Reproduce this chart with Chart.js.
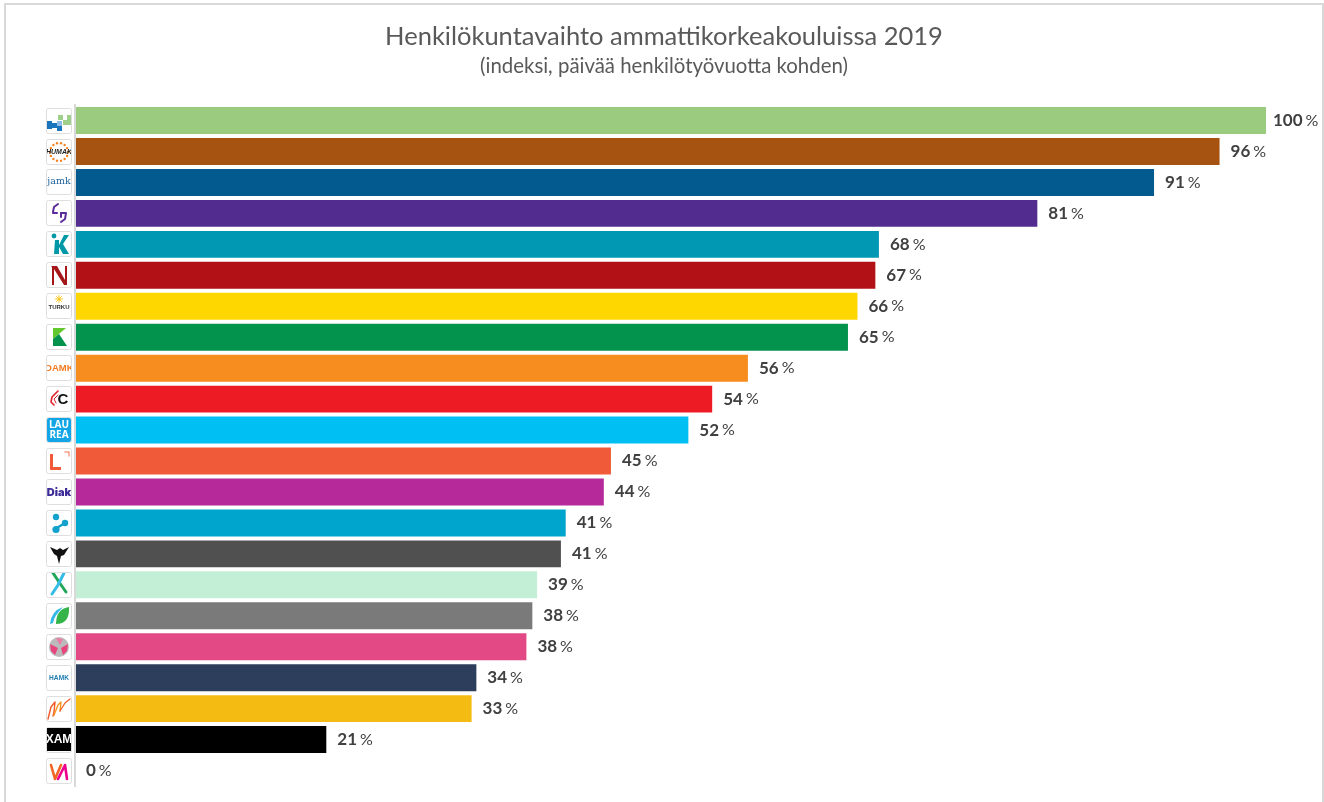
<!DOCTYPE html>
<html>
<head>
<meta charset="utf-8">
<title>Henkilökuntavaihto ammattikorkeakouluissa 2019</title>
<script src="https://cdn.jsdelivr.net/npm/chart.js@4"></script>
<style>
  html, body { margin: 0; padding: 0; background: #fff; overflow: hidden; }
  #frame { position: absolute; left: 4px; top: 3px; width: 1316px; height: 799px;
           border: 2px solid #d9d9d9; border-bottom: none; }
</style>
</head>
<body>
<div id="frame"></div>
<canvas id="turnoverChart" width="1324" height="802" style="position:absolute;left:0;top:0"></canvas>
<script>
const schools = ["hh", "humak", "jamk", "seamk", "kamk", "novia", "turku", "karelia", "oamk", "centria", "laurea",
  "lab", "diak", "savonia", "lapin", "tamk", "metropolia", "arcada", "hamk", "samk", "xamk", "vamk"];
const turnover = [100, 96.1, 90.6, 80.8, 67.5, 67.2, 65.7, 64.9, 56.5, 53.5, 51.5,
  45, 44.4, 41.2, 40.8, 38.8, 38.4, 37.9, 33.7, 33.3, 21.1, 0];
const turnoverLabels = ["100", "96", "91", "81", "68", "67", "66", "65", "56", "54", "52",
  "45", "44", "41", "41", "39", "38", "38", "34", "33", "21", "0"];
const barColors = ["#9bcb7e", "#a65311", "#025a8f", "#522d8f", "#0098b2", "#b21116", "#ffd700", "#03934c",
  "#f78d1e", "#ed1c24", "#00c0f3", "#f15a38", "#b5299a", "#00a5ce", "#505050", "#c2efd5", "#7a7a7a",
  "#e34985", "#2c3e5b", "#f4bc12", "#000000", "#e5007d"];

// small hand drawn logos, coordinates are local to a 24x24 box
function text(c, s, x, y, font, color) {
  c.font = font; c.fillStyle = color; c.textAlign = "center"; c.textBaseline = "middle";
  c.fillText(s, x, y);
}
function poly(c, color, pts) {
  c.fillStyle = color; c.beginPath();
  pts.forEach((p, i) => i ? c.lineTo(p[0], p[1]) : c.moveTo(p[0], p[1]));
  c.closePath(); c.fill();
}
function line(c, color, w, pts) {
  c.strokeStyle = color; c.lineWidth = w; c.lineCap = "round"; c.lineJoin = "round"; c.beginPath();
  pts.forEach((p, i) => i ? c.lineTo(p[0], p[1]) : c.moveTo(p[0], p[1]));
  c.stroke();
}
function dot(c, color, x, y, r) {
  c.fillStyle = color; c.beginPath(); c.arc(x, y, r, 0, Math.PI * 2); c.fill();
}
const logos = {
  hh(c) {
    [[0, 12, 5, 8, "#1a75bc"], [5, 14, 5, 5, "#1a75bc"], [10, 17, 5, 5, "#1a75bc"], [10, 12, 5, 5, "#8fbce6"]]
      .forEach(p => { c.fillStyle = p[4]; c.fillRect(p[0], p[1], p[2], p[3]); });
    [[11, 6, 5, 5], [16, 11, 5, 5], [20, 6, 4, 10]]
      .forEach(p => { c.fillStyle = "#9fd08a"; c.fillRect(p[0], p[1], p[2], p[3]); });
  },
  humak(c) {
    for (let i = 0; i < 14; i++) {
      const a = i * Math.PI / 7;
      dot(c, "#f58220", 12 + 9 * Math.cos(a), 12 + 9 * Math.sin(a), 1.2);
    }
    text(c, "HUMAK", 12, 12, "italic bold 7px 'Liberation Sans'", "#222");
  },
  jamk(c) { text(c, "jamk", 12, 12, "9.5px 'DejaVu Serif'", "#1f6299"); },
  seamk(c) {
    line(c, "#5b2d9b", 2, [[6, 11], [7, 6], [11, 3]]);
    line(c, "#5b2d9b", 2, [[6, 12], [10, 12]]);
    line(c, "#5b2d9b", 2, [[14, 12], [19, 12], [18, 18], [14, 21]]);
    line(c, "#5b2d9b", 2, [[14, 12], [14, 16]]);
  },
  kamk(c) {
    poly(c, "#0098a6", [[8, 8], [12, 8], [12, 13], [17, 3], [22, 3], [16, 12], [22, 22], [16, 22], [12, 15], [12, 22], [7, 22]]);
    dot(c, "#0098a6", 7, 4, 2.4);
  },
  novia(c) {
    poly(c, "#a4161a", [[4, 3], [10, 3], [18, 17], [18, 3], [20, 3], [20, 22], [17, 22], [7, 6], [7, 22], [5, 22], [5, 4]]);
  },
  turku(c) {
    for (let i = 0; i < 8; i++) {
      const a = i * Math.PI / 4;
      line(c, "#f8c51c", 1, [[12, 5], [12 + 3.5 * Math.cos(a), 5 + 3.5 * Math.sin(a)]]);
    }
    text(c, "TURKU", 12, 13.5, "bold 6px 'Liberation Sans'", "#333");
  },
  karelia(c) {
    poly(c, "#63c72e", [[6, 3], [19, 3], [6, 14]]);
    poly(c, "#03934c", [[6, 14], [12, 9], [20, 21], [6, 21]]);
  },
  oamk(c) { text(c, "OAMK", 12, 12, "bold 9.5px 'Liberation Sans'", "#f47b20"); },
  centria(c) {
    line(c, "#e0202a", 1.6, [[11, 4], [5, 10], [4, 15], [7, 18]]);
    line(c, "#e0202a", 1, [[11, 8], [7, 12], [9, 16]]);
    text(c, "C", 16, 12.5, "bold 15px 'Liberation Sans'", "#111");
  },
  laurea(c) {
    c.fillStyle = "#12a6e6"; c.beginPath(); c.roundRect(0, 0, 24, 24, 2); c.fill();
    text(c, "LAU", 12, 7, "bold 10px 'Open Sans'", "#fff");
    text(c, "REA", 12, 17.5, "bold 10px 'Open Sans'", "#fff");
  },
  lab(c) {
    poly(c, "#f15a38", [[3, 5], [6, 5], [6, 18], [14, 18], [14, 21], [3, 21]]);
    line(c, "#f79a82", 1.4, [[18, 3], [22, 3], [22, 7]]);
  },
  diak(c) { text(c, "Diak", 12, 12.5, "900 11px Inter", "#3c2a98"); },
  savonia(c) {
    line(c, "#12a2cc", 2.4, [[8, 18], [18, 12]]);
    dot(c, "#12a2cc", 9, 6, 3.2); dot(c, "#12a2cc", 9, 18.5, 3.6); dot(c, "#12a2cc", 18, 12, 3.2);
  },
  lapin(c) {
    poly(c, "#111", [[3, 5], [10, 8], [13, 6], [16, 8], [22, 5], [17, 13], [14, 14], [12, 22], [10, 14], [7, 12]]);
  },
  tamk(c) {
    line(c, "#21a65a", 3, [[6, 0], [12, 9], [19, 19]]);
    line(c, "#35bce6", 3, [[17, 0], [11, 12], [5, 21]]);
  },
  metropolia(c) {
    c.fillStyle = "#35b44a"; c.beginPath(); c.moveTo(9, 20); c.quadraticCurveTo(9, 5, 22, 3);
    c.quadraticCurveTo(23, 20, 9, 20); c.fill();
    c.fillStyle = "#35b8e6"; c.beginPath(); c.moveTo(3, 20); c.quadraticCurveTo(4, 7, 16, 3);
    c.quadraticCurveTo(7, 12, 6, 19); c.fill();
  },
  arcada(c) {
    dot(c, "#bbb", 12, 12, 10);
    poly(c, "#e8457f", [[3, 9], [11, 13], [8, 20], [4, 16]]);
    poly(c, "#e8457f", [[21, 9], [14, 13], [16, 20], [20, 16]]);
    poly(c, "#ef7aa5", [[9, 3], [16, 4], [13, 10]]);
  },
  hamk(c) { text(c, "HAMK", 12, 12, "bold 6.6px 'Liberation Sans'", "#1f7db0"); },
  samk(c) {
    line(c, "#f15a24", 1.4, [[1, 22], [4, 10], [8, 5], [7, 15], [6, 19]]);
    line(c, "#f7941d", 1.4, [[7, 18], [11, 8], [14, 5], [13, 14]]);
    line(c, "#f15a24", 1.2, [[13, 14], [18, 6], [23, 2]]);
  },
  xamk(c) {
    c.fillStyle = "#000"; c.fillRect(-1, 0, 26, 23);
    text(c, "XAM", 12, 12, "900 12px 'Liberation Sans'", "#fff");
  },
  vamk(c) {
    line(c, "#f26522", 2.6, [[4, 6], [8, 20], [14, 6]]);
    line(c, "#ec008c", 2.6, [[11, 20], [18, 6], [20, 20]]);
  }
};

// logos stand in for the tick labels of the category axis
const logoAxis = {
  id: "logoAxis",
  afterDraw(chart) {
    const c = chart.ctx, y = chart.scales.y;
    schools.forEach((name, i) => {
      const top = Math.round(y.getPixelForValue(i)) - 12;
      c.save();
      c.translate(47, top);
      c.fillStyle = "#fff";
      c.strokeStyle = "#dedede";
      c.lineWidth = 1;
      c.beginPath(); c.roundRect(-0.5, -0.5, 25, 25, 2); c.fill(); c.stroke();
      c.beginPath(); c.rect(0, 0, 24, 24); c.clip();
      logos[name](c);
      c.restore();
    });
  }
};

const valueLabels = {
  id: "valueLabels",
  afterDatasetsDraw(chart) {
    const c = chart.ctx;
    chart.getDatasetMeta(0).data.forEach((bar, i) => {
      c.save();
      c.textBaseline = "middle";
      c.textAlign = "left";
      c.fillStyle = "#404040";
      c.font = "bold 17px Lato";
      // the longest label sits a bit closer to its bar
      const x = Math.min(bar.x + 11, 1273), y = bar.y;
      c.fillText(turnoverLabels[i], x, y);
      const w = c.measureText(turnoverLabels[i]).width;
      c.font = "16px Lato";
      c.fillText("%", x + w + 3, y);
      c.restore();
    });
  }
};

new Chart(document.getElementById("turnoverChart").getContext("2d"), {
  type: "bar",
  data: {
    labels: schools,
    datasets: [{
      data: turnover,
      backgroundColor: barColors,
      barPercentage: 0.87,
      categoryPercentage: 1
    }]
  },
  plugins: [logoAxis, valueLabels],
  options: {
    indexAxis: "y",
    responsive: false,
    animation: false,
    layout: { padding: { left: 62, right: 58, top: 0, bottom: 16 } },
    scales: {
      x: { display: false, min: 0, max: 100 },
      y: {
        afterFit(s) { s.width = 13; },
        grid: { display: false },
        border: { color: "#d9d9d9", width: 2, z: 1 },
        ticks: { display: false }
      }
    },
    plugins: {
      legend: { display: false },
      tooltip: { enabled: false },
      title: {
        display: true,
        text: "Henkilökuntavaihto ammattikorkeakouluissa 2019",
        color: "#595959",
        font: { family: "Lato", size: 25.5, weight: "normal" },
        padding: { top: 21, bottom: 3 }
      },
      subtitle: {
        display: true,
        text: "(indeksi, päivää henkilötyövuotta kohden)",
        color: "#595959",
        font: { family: "Lato", size: 20.4, weight: "normal" },
        padding: { top: 0, bottom: 26 }
      }
    }
  }
});
</script>
</body>
</html>
